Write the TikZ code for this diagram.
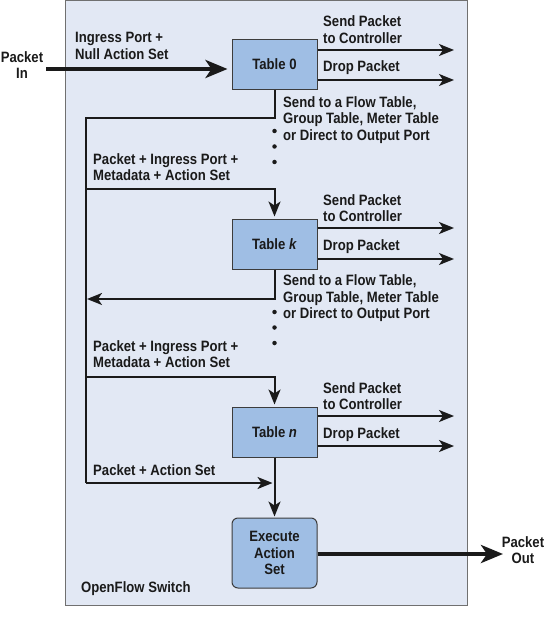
\documentclass[tikz,border=0pt]{standalone}
\usepackage{fontspec}
\setmainfont{Liberation Sans}[FakeStretch=0.875]
\usetikzlibrary{arrows.meta}
\definecolor{bgblue}{HTML}{E2E8F4}
\definecolor{tblue}{HTML}{9FBEE4}
\definecolor{tborder}{HTML}{3C3C3C}
\definecolor{oborder}{HTML}{707070}
\definecolor{ink}{HTML}{1A1A1A}
\tikzset{
  every node/.style={font=\bfseries\fontsize{15}{16.5}\selectfont, text=ink},
  tbl/.style={draw=tborder, fill=tblue, line width=1pt, minimum width=85pt, minimum height=50pt, inner sep=0pt},
  lbl/.style={anchor=west, align=left, inner sep=0pt},
  wire/.style={draw=ink, line width=2pt},
  arr/.style={wire, -{Stealth[length=15pt,width=12pt,inset=4pt]}, shorten >=2pt},
  fat/.style={draw=ink, line width=4pt, -{Stealth[length=22pt,width=18pt,inset=6pt]}},
  dot/.style={circle, fill=ink, inner sep=0pt, minimum size=4.5pt}
}
\begin{document}
\begin{tikzpicture}[x=1pt,y=-1pt]
\useasboundingbox (0,0) rectangle (545,620);
% switch
\node[draw=oborder, fill=bgblue, line width=1pt, minimum width=402pt, minimum height=604pt, inner sep=0pt, anchor=north west] (sw) at (65,0.5) {};
\node[lbl] (swl) at (81,589) {OpenFlow Switch};
% tables
\node[tbl] (t0) at (274.5,64.5) {Table 0};
\node[tbl] (tk) at (274.5,244) {Table \textit{k}};
\node[tbl] (tn) at (274.5,432) {Table \textit{n}};
\node[tbl, rounded corners=6pt, minimum height=70pt, align=center] (ex) at (274.5,553) {Execute\\Action\\Set};
% packet in / out
\node[align=center, inner sep=0pt] (pin) at (22,65) {Packet\\In};
\node[align=center, inner sep=0pt] (pout) at (523,550) {Packet\\Out};
\coordinate (inA) at (46,69);
\draw[fat, shorten >=4pt] (inA) -- (t0.west |- inA);
\coordinate (outB) at (503,554);
\draw[fat] (ex.east |- outB) -- (outB);
\node[lbl] (inl) at (75,46) {Ingress Port +\\Null Action Set};
% outputs of each table
\foreach \t/\ya/\yb/\yl/\yd in {t0/50/80/29.5/68, tk/228/259/208/247, tn/416/446/396/435}{
  \coordinate (\t sa) at (454,\ya);
  \coordinate (\t sb) at (454,\yb);
  \draw[arr, shorten >=0pt] (\t.east |- \t sa) -- (\t sa);
  \draw[arr, shorten >=0pt] (\t.east |- \t sb) -- (\t sb);
  \node[lbl] (\t ls) at (323,\yl) {Send Packet\\to Controller};
  \node[lbl] (\t ld) at (323,\yd) {Drop Packet};
}
\node[lbl] (t0lf) at (283,120) {Send to a Flow Table,\\Group Table, Meter Table\\or Direct to Output Port};
\node[lbl] (tklf) at (283,298.5) {Send to a Flow Table,\\Group Table, Meter Table\\or Direct to Output Port};
% dots
\node[dot] (d01) at (274.5,131) {};
\node[dot] (d02) at (274.5,146.5) {};
\node[dot] (d03) at (274.5,162) {};
\node[dot] (dk1) at (274.5,312) {};
\node[dot] (dk2) at (274.5,327.5) {};
\node[dot] (dk3) at (274.5,343) {};
% bus
\coordinate (b0) at (86,118);
\coordinate (b1) at (86,483);
\coordinate (bk) at (86,189);
\coordinate (bn) at (86,377);
\coordinate (rk) at (86,299);
\draw[wire, line join=miter] (t0.south) |- (b0) -- (b1);
\draw[arr] (b1) -- (tn.south |- b1);
\draw[arr] (bk) -| (tk.north);
\draw[arr] (bn) -| (tn.north);
\draw[arr, shorten >=1pt] (tk.south) |- (rk);
\draw[arr, shorten >=1pt] (tn.south) -- (ex.north);
\node[lbl] (lk) at (93,167) {Packet + Ingress Port +\\Metadata + Action Set};
\node[lbl] (ln) at (93,354) {Packet + Ingress Port +\\Metadata + Action Set};
\node[lbl] (la) at (93,470) {Packet + Action Set};
\end{tikzpicture}
\end{document}
